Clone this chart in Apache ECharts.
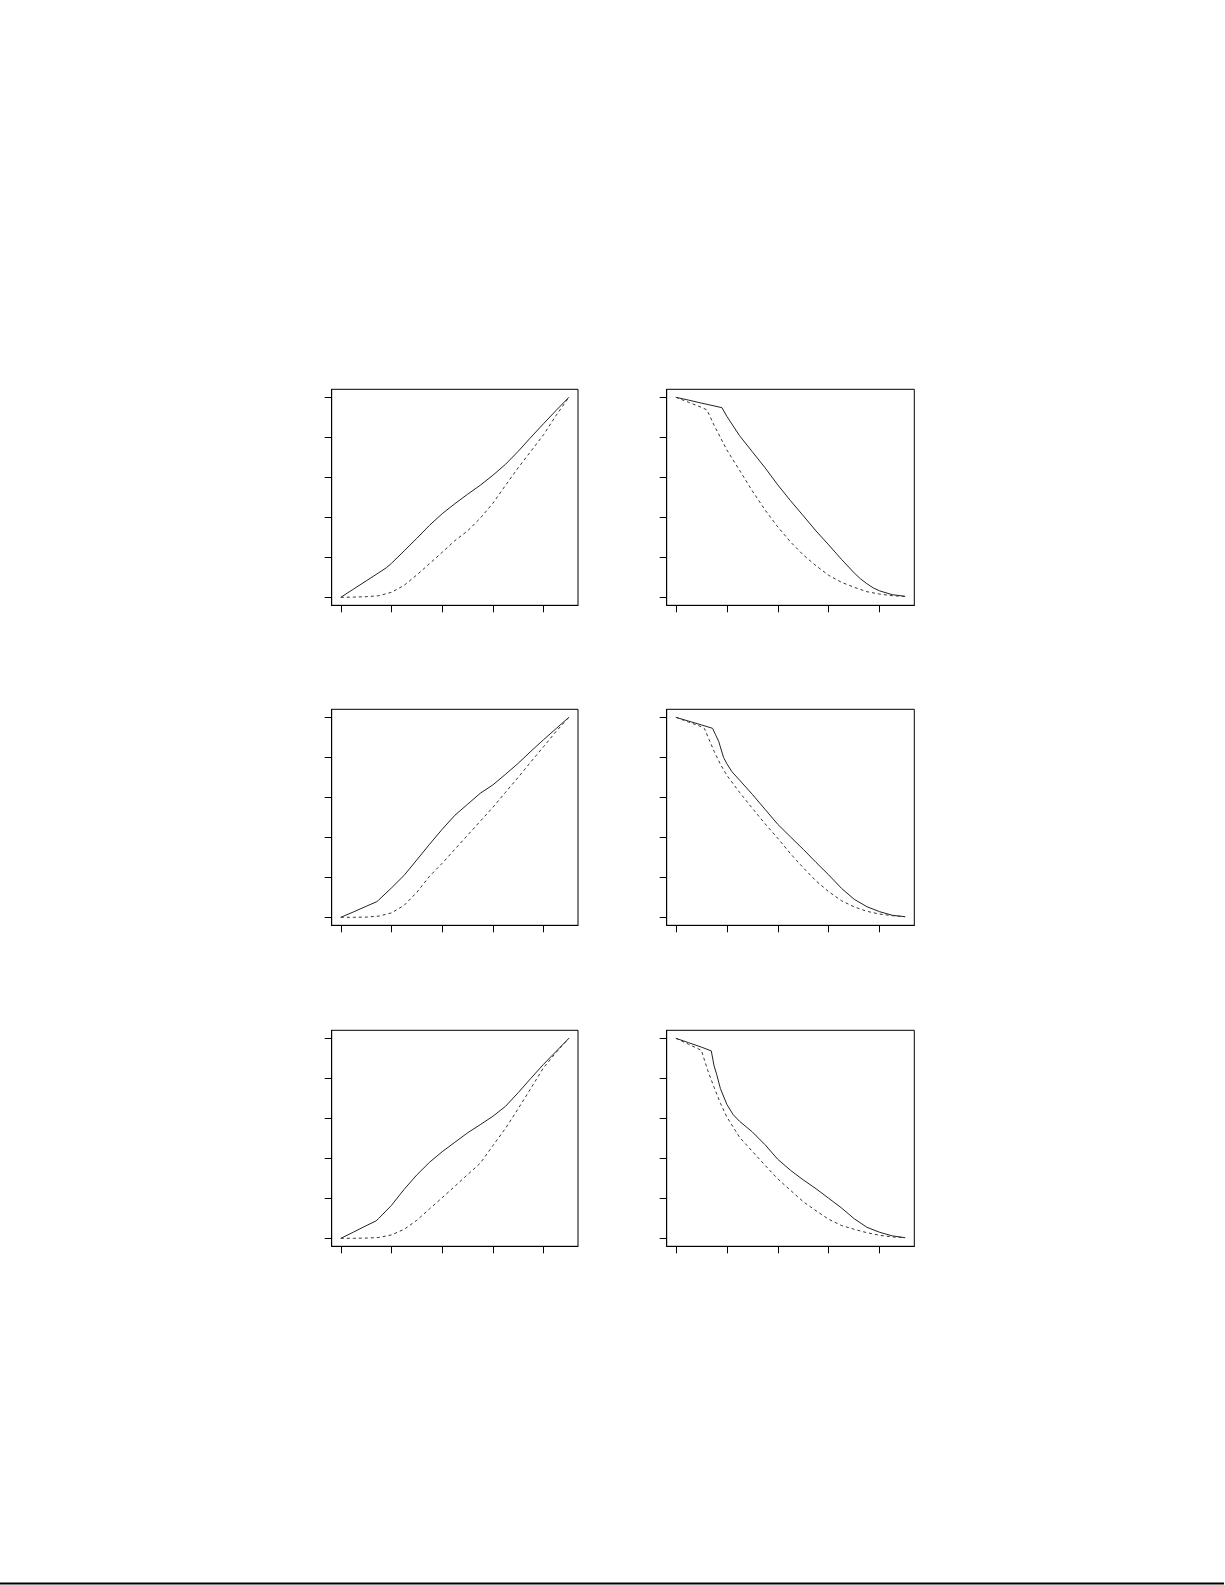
<!DOCTYPE html>
<html>
<head>
    <meta charset="UTF-8">
    <title>curves</title>
    <script src="https://cdn.jsdelivr.net/npm/echarts@6/dist/echarts.min.js"></script>
    <style>
        html, body { margin: 0; padding: 0; background: #fff; }
        #main { width: 1225px; height: 1585px; }
    </style>
</head>
<body>
<div id="main"></div>
<script type="text/javascript">
    // tick positions (no labels in the original)
    var xTicks = [0, 2, 4, 6, 8];
    var yTicks = [0, 0.2, 0.4, 0.6, 0.8, 1];

    // row 1, left
    var r1lSolidX = [0, 0.5, 1, 1.5, 1.8, 2, 2.5, 3, 3.5, 4, 4.5, 5, 5.5, 6, 6.5, 7, 7.5, 8, 8.5, 9];
    var r1lSolidY = [0, 0.041, 0.082, 0.123, 0.148, 0.17, 0.232, 0.295, 0.36, 0.418, 0.468, 0.515, 0.56, 0.61, 0.665, 0.73, 0.8, 0.868, 0.935, 1];
    var r1lDashX = [0, 0.5, 1, 1.5, 2, 2.5, 3, 3.5, 4, 4.5, 5, 5.5, 6, 6.5, 7, 7.5, 8, 8.5, 9];
    var r1lDashY = [0, 0.001, 0.003, 0.008, 0.025, 0.06, 0.112, 0.168, 0.225, 0.283, 0.332, 0.395, 0.47, 0.56, 0.648, 0.73, 0.813, 0.91, 1];

    // row 1, right
    var r1rSolidX = [0, 0.5, 1, 1.5, 1.81, 2, 2.5, 3, 3.5, 4, 4.5, 5, 5.5, 6, 6.5, 7, 7.25, 7.5, 7.75, 8, 8.5, 9];
    var r1rSolidY = [1, 0.986, 0.971, 0.957, 0.948, 0.905, 0.808, 0.728, 0.648, 0.562, 0.483, 0.408, 0.332, 0.262, 0.19, 0.122, 0.092, 0.068, 0.047, 0.032, 0.013, 0.005];
    var r1rDashX = [0, 0.5, 1, 1.22, 1.5, 2, 2.5, 3, 3.5, 4, 4.5, 5, 5.5, 6, 6.5, 7, 7.5, 8, 8.5, 9];
    var r1rDashY = [1, 0.975, 0.95, 0.937, 0.86, 0.737, 0.635, 0.532, 0.437, 0.352, 0.277, 0.212, 0.158, 0.11, 0.075, 0.05, 0.028, 0.016, 0.008, 0.004];

    // row 2, left
    var r2lSolidX = [0, 0.5, 1, 1.42, 1.5, 2, 2.5, 3, 3.5, 4, 4.5, 5, 5.5, 6, 6.5, 7, 7.5, 8, 8.5, 9];
    var r2lSolidY = [0, 0.027, 0.055, 0.078, 0.087, 0.147, 0.21, 0.287, 0.365, 0.44, 0.51, 0.565, 0.62, 0.662, 0.715, 0.77, 0.83, 0.888, 0.944, 1];
    var r2lDashX = [0, 0.5, 1, 1.5, 2, 2.5, 3, 3.5, 4, 4.5, 5, 5.5, 6, 6.5, 7, 7.5, 8, 8.5, 9];
    var r2lDashY = [0, 0, 0.001, 0.006, 0.022, 0.06, 0.125, 0.205, 0.27, 0.34, 0.41, 0.48, 0.55, 0.625, 0.7, 0.777, 0.853, 0.93, 1];

    // row 2, right
    var r2rSolidX = [0, 0.5, 1, 1.44, 1.55, 1.68, 1.87, 2, 2.2, 2.5, 3, 3.5, 4, 4.5, 5, 5.5, 6, 6.5, 7, 7.5, 8, 8.5, 9];
    var r2rSolidY = [1, 0.981, 0.962, 0.945, 0.915, 0.88, 0.8, 0.768, 0.728, 0.686, 0.615, 0.54, 0.465, 0.402, 0.34, 0.275, 0.212, 0.145, 0.09, 0.053, 0.028, 0.01, 0.003];
    var r2rDashX = [0, 0.5, 1, 1.12, 1.3, 1.5, 1.75, 2, 2.5, 3, 3.5, 4, 4.5, 5, 5.5, 6, 6.5, 7, 7.5, 8, 8.5, 9];
    var r2rDashY = [1, 0.976, 0.953, 0.944, 0.89, 0.83, 0.765, 0.71, 0.625, 0.545, 0.468, 0.395, 0.318, 0.248, 0.182, 0.128, 0.083, 0.052, 0.03, 0.016, 0.008, 0.003];

    // row 3, left
    var r3lSolidX = [0, 0.5, 1, 1.39, 1.5, 2, 2.5, 3, 3.5, 4, 4.5, 5, 5.5, 6, 6.5, 7, 7.5, 8, 8.5, 9];
    var r3lSolidY = [0, 0.031, 0.063, 0.087, 0.1, 0.165, 0.245, 0.317, 0.38, 0.433, 0.48, 0.527, 0.568, 0.61, 0.66, 0.728, 0.8, 0.87, 0.935, 1];
    var r3lDashX = [0, 0.5, 1, 1.5, 2, 2.5, 3, 3.5, 4, 4.5, 5, 5.5, 6, 6.5, 7, 7.5, 8, 8.5, 9];
    var r3lDashY = [0, 0, 0.001, 0.004, 0.017, 0.045, 0.09, 0.147, 0.203, 0.26, 0.318, 0.375, 0.463, 0.55, 0.648, 0.75, 0.853, 0.93, 1];

    // row 3, right
    var r3rSolidX = [0, 0.5, 1, 1.39, 1.5, 1.6, 1.75, 2, 2.25, 2.5, 3, 3.5, 4, 4.5, 5, 5.5, 6, 6.5, 7, 7.5, 8, 8.5, 9];
    var r3rSolidY = [1, 0.978, 0.956, 0.937, 0.862, 0.82, 0.748, 0.67, 0.618, 0.585, 0.532, 0.468, 0.395, 0.34, 0.292, 0.248, 0.2, 0.152, 0.098, 0.055, 0.03, 0.012, 0.003];
    var r3rDashX = [0, 0.5, 1, 1.07, 1.25, 1.5, 1.75, 2, 2.5, 3, 3.5, 4, 4.5, 5, 5.5, 6, 6.5, 7, 7.5, 8, 8.5, 9];
    var r3rDashY = [1, 0.97, 0.94, 0.933, 0.84, 0.755, 0.675, 0.607, 0.505, 0.435, 0.365, 0.297, 0.24, 0.183, 0.138, 0.095, 0.064, 0.045, 0.028, 0.015, 0.007, 0.003];

    var panels = [
        [r1lSolidX, r1lSolidY, r1lDashX, r1lDashY],
        [r1rSolidX, r1rSolidY, r1rDashX, r1rDashY],
        [r2lSolidX, r2lSolidY, r2lDashX, r2lDashY],
        [r2rSolidX, r2rSolidY, r2rDashX, r2rDashY],
        [r3lSolidX, r3lSolidY, r3lDashX, r3lDashY],
        [r3rSolidX, r3rSolidY, r3rDashX, r3rDashY]
    ];

    function zip(xs, ys) {
        var out = [];
        for (var i = 0; i < xs.length; i++) {
            out.push([xs[i], ys[i]]);
        }
        return out;
    }

    var colLeft = [331.7, 666.7];
    var colWidth = [246.3, 247.6];
    var rowTop = [389.3, 709.3, 1030.3];
    var boxHeight = 216;

    var grids = [], xAxes = [], yAxes = [], series = [];
    for (var p = 0; p < panels.length; p++) {
        var row = Math.floor(p / 2), col = p % 2;
        grids.push({
            left: colLeft[col],
            top: rowTop[row],
            width: colWidth[col],
            height: boxHeight,
            show: true,
            borderColor: '#000',
            borderWidth: 1,
            containLabel: false
        });
        xAxes.push({
            type: 'value', gridIndex: p, min: -0.36, max: 9.36,
            axisLine: {show: true, onZero: false, lineStyle: {color: '#000', width: 1}},
            axisTick: {show: true, inside: false, length: 7, customValues: xTicks, lineStyle: {color: '#000', width: 1}},
            axisLabel: {show: false},
            splitLine: {show: false}
        });
        yAxes.push({
            type: 'value', gridIndex: p, min: -0.04, max: 1.04,
            axisLine: {show: true, onZero: false, lineStyle: {color: '#000', width: 1}},
            axisTick: {show: true, inside: false, length: 7, customValues: yTicks, lineStyle: {color: '#000', width: 1}},
            axisLabel: {show: false},
            splitLine: {show: false}
        });
        var d = panels[p];
        series.push({
            type: 'line', xAxisIndex: p, yAxisIndex: p,
            data: zip(d[0], d[1]),
            showSymbol: false, symbol: 'none', silent: true,
            lineStyle: {color: '#222', width: 1, type: 'solid'}
        });
        series.push({
            type: 'line', xAxisIndex: p, yAxisIndex: p,
            data: zip(d[2], d[3]),
            showSymbol: false, symbol: 'none', silent: true,
            lineStyle: {color: '#333', width: 1, type: [3, 3]}
        });
    }

    var chart = echarts.init(document.getElementById('main'), null, {renderer: 'canvas'});
    chart.setOption({
        backgroundColor: '#fff',
        animation: false,
        grid: grids,
        xAxis: xAxes,
        yAxis: yAxes,
        series: series,
        graphic: [{
            type: 'line',
            shape: {x1: 0, y1: 1583.5, x2: 1224, y2: 1583.5},
            style: {stroke: '#000', lineWidth: 2}
        }]
    });
</script>
</body>
</html>
